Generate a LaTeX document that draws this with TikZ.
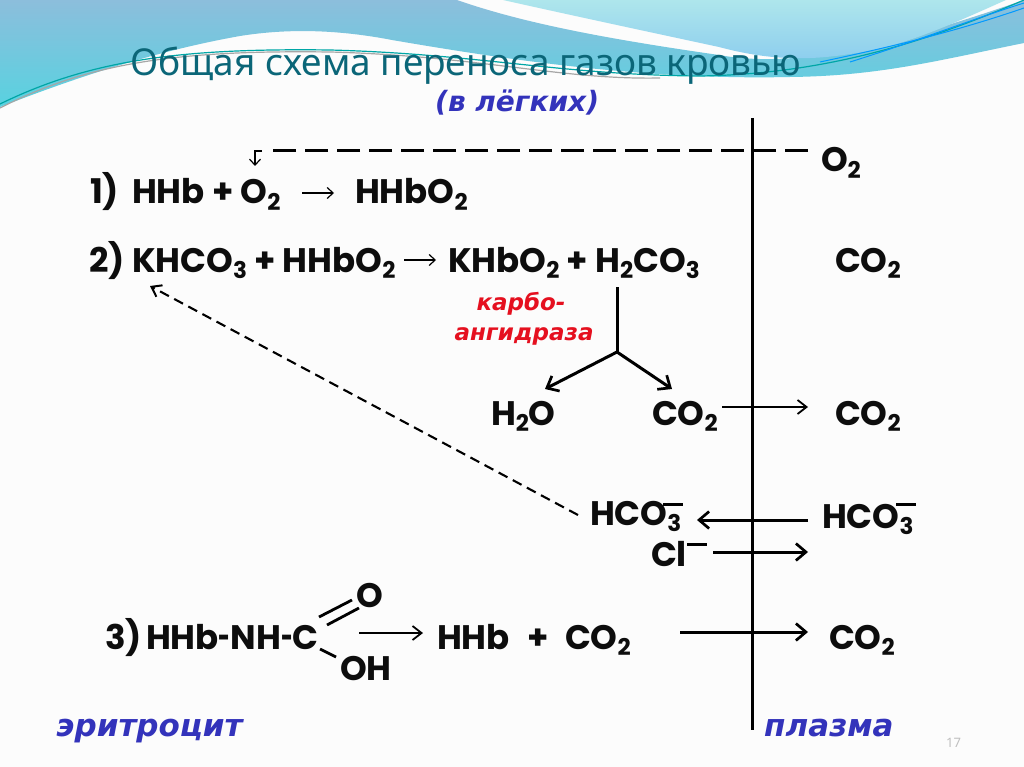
\documentclass[tikz,border=0pt]{standalone}
\usepackage{fontspec}
\setmainfont{Poppins}
\newfontfamily\titlefont{Noto Sans}
\newfontfamily\cyrfont{DejaVu Sans}
\usetikzlibrary{arrows.meta}
\newcommand{\sbb}[1]{\raisebox{-0.2em}{\fontsize{23}{23}\selectfont #1}}
\newcommand{\shy}{\scalebox{0.6}[1]{-}}
\tikzset{
  x=1pt,y=-1pt,
  chem/.style={anchor=base west,inner sep=0pt,outer sep=0pt,yshift=-2pt,font=\fontsize{34}{34}\selectfont\bfseries,text=black!95},
  flow/.style={line width=3pt,-{Straight Barb[length=10pt,width=17pt,line width=2.7pt]}},
  thinflow/.style={line width=2pt,-{Straight Barb[length=9pt,width=14pt,line width=1.8pt]}},
  dashflow/.style={line width=2.1pt,dash pattern=on 10pt off 6pt,-{Straight Barb[length=9pt,width=13pt,line width=2pt]}},
  smallflow/.style={line width=1.3pt,-{Straight Barb[length=6pt,width=11pt,line width=1.2pt]}},
  bluelabel/.style={anchor=base west,inner sep=0pt,font=\cyrfont\bfseries\itshape\fontsize{31}{31}\selectfont,text=blue1},
  redlabel/.style={anchor=base,inner sep=0pt,font=\cyrfont\bfseries\itshape\fontsize{23}{23}\selectfont,text=red1},
  bar/.style={line width=3pt},
}
\definecolor{blue1}{HTML}{3333BB}
\definecolor{red1}{HTML}{E5101F}
\definecolor{titlec}{HTML}{0B6678}
\definecolor{swa}{HTML}{8CBEDC}
\definecolor{swb}{HTML}{58D2E0}
\definecolor{swc}{HTML}{AEE6EC}
\definecolor{swd}{HTML}{8CCDEE}
\begin{document}
\begin{tikzpicture}
\useasboundingbox (0,0) rectangle (1024,767);
\fill[white!99!black] (0,0) rectangle (1024,767);
% background swooshes
\shade[top color=swa,bottom color=swb]
  (0,0) -- (457,0) .. controls (520,22) and (600,38) .. (719,55)
  .. controls (790,68) and (880,50) .. (1024,0) -- (1024,43)
  .. controls (940,60) and (880,76) .. (790,77)
  .. controls (650,80) and (520,62) .. (392,40)
  .. controls (340,30) and (290,28) .. (240,36)
  .. controls (150,52) and (70,80) .. (0,107) -- cycle;
\shade[top color=swc,bottom color=swd]
  (503,0) -- (1006,0) .. controls (950,25) and (900,48) .. (850,54)
  .. controls (800,62) and (760,58) .. (719,47)
  .. controls (640,30) and (570,15) .. (503,0) -- cycle;
\draw[gray!70,line width=1.2pt] (0,108) .. controls (90,62) and (180,50) .. (330,52)
  .. controls (480,56) and (560,80) .. (660,78);
\draw[teal!70!cyan,line width=1.2pt] (0,104) .. controls (90,60) and (180,48) .. (330,50)
  .. controls (480,54) and (560,75) .. (700,76)
  .. controls (830,74) and (930,40) .. (1024,0);
\draw[blue!40!cyan,line width=1pt] (820,62) .. controls (900,45) and (960,30) .. (1024,8);
\draw[blue!40!cyan,line width=1pt] (850,62) .. controls (920,40) and (970,20) .. (1024,3);
% title
\node[anchor=base west,inner sep=0pt,font=\titlefont\fontsize{37}{37}\selectfont,text=titlec] (title) at (130,76) {Общая схема переноса газов кровью};
\node[bluelabel,font=\cyrfont\bfseries\itshape\fontsize{28}{28}\selectfont] (lungs) at (435,112) {(в лёгких)};
% membrane
\coordinate (mtop) at (752,118);
\coordinate (mbot) at (752,730);
\draw[line width=3pt] (mtop) -- (mbot);
% formulas
\node[chem] (one) at (90,202) {1)};
\node[chem] (hhb1) at (132,202) {HHb + O\sbb{2}};
\node[chem] (hhbo1) at (355,202) {HHbO\sbb{2}};
\node[chem] (two) at (89,270) {2)};
\node[chem] (khco) at (132,270) {KHCO\sbb{3} + HHbO\sbb{2}};
\node[chem] (khbo) at (448,270) {KHbO\sbb{2} + H\sbb{2}CO\sbb{3}};
\node[chem] (o2r) at (821,170) {O\sbb{2}};
\node[chem] (co2a) at (835,270) {CO\sbb{2}};
\node[redlabel] (karbo) at (521,310) {карбо-};
\node[redlabel] (angid) at (524,340) {ангидраза};
\node[chem] (h2o) at (491,423) {H\sbb{2}O};
\node[chem] (co2b) at (652,423) {CO\sbb{2}};
\node[chem] (co2c) at (835,423) {CO\sbb{2}};
\node[chem] (hco1) at (590,523) {HCO\sbb{3}};
\node[chem] (hco2) at (822,526) {HCO\sbb{3}};
\node[chem] (cl) at (651,564) {Cl};
\node[chem] (three) at (105,647) {3)};
\node[chem] (carb) at (146,647) {HHb\shy NH\shy C};
\node[chem] (oo) at (356,605) {O};
\node[chem] (oh) at (340,678) {OH};
\node[chem] (hhb3) at (437,647) {HHb};
\node[chem] (plus3) at (527,647) {+};
\node[chem] (co2d) at (565,647) {CO\sbb{2}};
\node[chem] (co2e) at (829,647) {CO\sbb{2}};
\node[bluelabel] (eri) at (56,736) {эритроцит};
\node[bluelabel] (plasma) at (764,736) {плазма};
\node[anchor=base west,inner sep=0pt,font=\titlefont\fontsize{13}{13}\selectfont,text=gray!50] (pg) at (946,747) {17};
% minus bars
\draw[bar] (663,504) -- (683,504);
\draw[bar] (896,504) -- (916,504);
\draw[bar] (687,544) -- (707,544);
% O2 dashed line
\coordinate (d0) at (808,151); \coordinate (d1) at (267,151);
\coordinate (h0) at (262,151); \coordinate (h1) at (255,151); \coordinate (h2) at (255,166);
\draw[line width=3pt,dash pattern=on 23pt off 9pt] (d0) -- (d1);
\draw[smallflow] (h0) -- (h1) -- (h2);
% reaction arrows
\coordinate (a1) at (302,193); \coordinate (a2) at (334,193);
\coordinate (b1) at (404,260); \coordinate (b2) at (436,260);
\draw[smallflow] (a1) -- (a2);
\draw[smallflow] (b1) -- (b2);
% fork
\coordinate (f0) at (617,287); \coordinate (f1) at (617,352);
\coordinate (f2) at (545,389); \coordinate (f3) at (672,389);
\draw[line width=3pt] (f0) -- (f1);
\draw[flow] (f1) -- (f2);
\draw[flow] (f1) -- (f3);
% transport arrows
\coordinate (c1) at (722,407); \coordinate (c2) at (808,407);
\draw[thinflow] (c1) -- (c2);
\coordinate (e1) at (578,515); \coordinate (e2) at (150,286);
\draw[dashflow] (e1) -- (e2);
\coordinate (g1) at (808,520); \coordinate (g2) at (697,520);
\draw[flow] (g1) -- (g2);
\coordinate (i1) at (713,552); \coordinate (i2) at (808,552);
\draw[flow] (i1) -- (i2);
\coordinate (j1) at (359,633); \coordinate (j2) at (423,633);
\draw[thinflow] (j1) -- (j2);
\coordinate (k1) at (680,632); \coordinate (k2) at (808,632);
\draw[flow] (k1) -- (k2);
% bonds
\coordinate (p1) at (319,617); \coordinate (p2) at (352,600);
\coordinate (q1) at (327,625); \coordinate (q2) at (359,608);
\coordinate (r1) at (320,649); \coordinate (r2) at (336,657);
\draw[line width=2.8pt] (p1) -- (p2);
\draw[line width=2.8pt] (q1) -- (q2);
\draw[line width=2.8pt] (r1) -- (r2);
\end{tikzpicture}
\end{document}
